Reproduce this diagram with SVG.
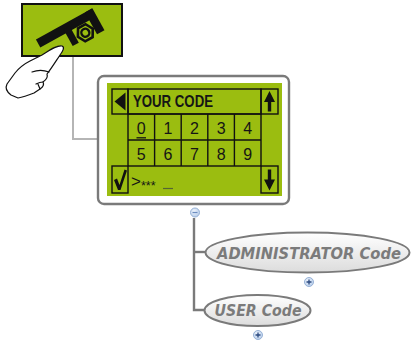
<svg xmlns="http://www.w3.org/2000/svg" width="411" height="344" viewBox="0 0 411 344">
  <defs>
    <linearGradient id="bubble" x1="0" y1="0" x2="0" y2="1">
      <stop offset="0" stop-color="#ffffff"/>
      <stop offset="1" stop-color="#dcdcdc"/>
    </linearGradient>
    <radialGradient id="knob" cx="0.4" cy="0.35" r="0.7">
      <stop offset="0" stop-color="#eef4fc"/>
      <stop offset="1" stop-color="#b4cbea"/>
    </radialGradient>
    <style>
      .lcd { fill: #9bbd10; }
      .grid { stroke: #111; stroke-width: 1.4; fill: none; }
      .ink { fill: #111; }
      .digit { font-family: "Liberation Sans", Arial, sans-serif; font-size: 16px; fill: #151515; text-anchor: middle; }
      .lcdtext { font-family: "Liberation Sans", Arial, sans-serif; fill: #151515; }
      .bubble { fill: url(#bubble); stroke: #7a7a7a; stroke-width: 2; }
      .label { font-family: "DejaVu Sans", Verdana, sans-serif; font-weight: bold; font-style: italic; fill: #7b7b7b; text-anchor: middle; }
      .knob { fill: url(#knob); stroke: #98b2d6; stroke-width: 1; }
      .link-light { stroke: #b5b5b5; stroke-width: 2; fill: none; }
      .link { stroke: #7a7a7a; stroke-width: 2.4; fill: none; }
    </style>
  </defs>

  <!-- connectors -->
  <g id="connectors">
    <polyline class="link-light" points="73,57 73,139 98,139"/>
    <polyline class="link" points="194,218 194,310 205,310"/>
    <line class="link" x1="194" y1="252" x2="206" y2="252"/>
  </g>

  <!-- keypad button with pressing hand -->
  <g id="key-button">
    <rect x="22" y="4" width="100" height="52" class="lcd" stroke="#111" stroke-width="2"/>
    <g transform="translate(39,43) rotate(-29)" class="ink">
      <rect x="-1" y="-4.5" width="64" height="9"/>
      <rect x="55" y="-4.5" width="8.5" height="25"/>
      <rect x="28" y="0" width="7" height="19"/>
      <polygon points="54,13.5 49.75,20.9 41.25,20.9 37,13.5 41.25,6.1 49.75,6.1" fill="#9bbd10" stroke="#111" stroke-width="2.6"/>
      <circle cx="45.5" cy="13.5" r="4" fill="#9bbd10" stroke="#111" stroke-width="2.4"/>
    </g>
    <g id="hand" fill="#fff" stroke="#111" stroke-width="1.2" stroke-linejoin="round" stroke-linecap="round">
      <path d="M62,46 C57,45 50,50 42,55 L30,61 C24,64 19,68 15,73 L7,84 C5,88 7,92 11,95 L18,98 C24,97 29,95 34,93 L40,89 C43,87 44,84 43,82 C46,80 48,77 47,74 C51,69 56,61 60,55 C63,51 65,47 62,46 Z"/>
      <path d="M49,72 C44,70 37,70 32,72" fill="none"/>
      <path d="M43,82 C40,82 38,83 36,84" fill="none"/>
      <path d="M40,89 C39,86 38,85 38,84" fill="none"/>
    </g>
  </g>

  <!-- code entry screen -->
  <g id="code-screen">
    <rect x="98" y="76" width="191" height="128" rx="6" fill="#fff" stroke="#7a7a7a" stroke-width="2.4"/>
    <rect x="107" y="83" width="175" height="113" class="lcd"/>
    <!-- frame boxes -->
    <rect x="112" y="89" width="16" height="25" class="grid"/>
    <rect x="128" y="89" width="133" height="25" class="grid"/>
    <rect x="261" y="89" width="17" height="25" class="grid"/>
    <rect x="128" y="114" width="133" height="52" class="grid"/>
    <line x1="128" y1="140" x2="261" y2="140" class="grid"/>
    <line x1="154.6" y1="114" x2="154.6" y2="166" class="grid"/>
    <line x1="181.2" y1="114" x2="181.2" y2="166" class="grid"/>
    <line x1="207.8" y1="114" x2="207.8" y2="166" class="grid"/>
    <line x1="234.4" y1="114" x2="234.4" y2="166" class="grid"/>
    <rect x="112" y="166" width="16" height="27" class="grid"/>
    <rect x="261" y="166" width="17" height="27" class="grid"/>
    <!-- arrow and check icons -->
    <polygon class="ink" points="114.5,101.5 125.5,92.5 125.5,110.5"/>
    <path class="ink" d="M269.5,91 L275,102 L271.2,102 L271.2,111.5 L267.8,111.5 L267.8,102 L264,102 Z"/>
    <path class="ink" d="M269.5,190.5 L275,179.5 L271.2,179.5 L271.2,169.5 L267.8,169.5 L267.8,179.5 L264,179.5 Z"/>
    <path class="ink" d="M114,180 L117,178.5 L119.5,185 L124.5,169.5 L127,170.5 L120.5,190 L118,190 Z"/>
    <!-- texts -->
    <text class="lcdtext" x="133" y="107" font-size="16.5" font-weight="bold" textLength="80" lengthAdjust="spacingAndGlyphs">YOUR CODE</text>
    <text class="digit" x="141.3" y="134">0</text>
    <line x1="136.5" y1="137.8" x2="146" y2="137.8" stroke="#151515" stroke-width="1.3"/>
    <text class="digit" x="167.9" y="134">1</text>
    <text class="digit" x="194.5" y="134">2</text>
    <text class="digit" x="221.1" y="134">3</text>
    <text class="digit" x="247.7" y="134">4</text>
    <text class="digit" x="141.3" y="159.5">5</text>
    <text class="digit" x="167.9" y="159.5">6</text>
    <text class="digit" x="194.5" y="159.5">7</text>
    <text class="digit" x="221.1" y="159.5">8</text>
    <text class="digit" x="247.7" y="159.5">9</text>
    <text class="lcdtext" x="131" y="187" font-size="17" font-weight="300">&gt;</text>
    <text class="lcdtext" x="141" y="190" font-size="12.5">***</text>
    <line x1="163" y1="188.5" x2="173" y2="188.5" stroke="#556633" stroke-width="1.2"/>
  </g>

  <g id="toggle-screen">
    <circle cx="195" cy="212.5" r="4.5" class="knob"/>
    <line x1="192.5" y1="212.5" x2="197.5" y2="212.5" stroke="#6d8dbf" stroke-width="1.2"/>
  </g>

  <!-- code types -->
  <g id="admin-code">
    <ellipse cx="307.5" cy="252.5" rx="102" ry="20" class="bubble"/>
    <text class="label" x="309" y="259" font-size="15" textLength="184" lengthAdjust="spacingAndGlyphs">ADMINISTRATOR Code</text>
    <circle cx="309" cy="282" r="4.5" class="knob"/>
    <path d="M306.5,282 H311.5 M309,279.5 V284.5" stroke="#2b4a80" stroke-width="1.3"/>
  </g>

  <g id="user-code">
    <ellipse cx="257.5" cy="310.5" rx="53" ry="15.5" class="bubble"/>
    <text class="label" x="258" y="316" font-size="15" textLength="87" lengthAdjust="spacingAndGlyphs">USER Code</text>
    <circle cx="258" cy="335" r="4.5" class="knob"/>
    <path d="M255.5,335 H260.5 M258,332.5 V337.5" stroke="#2b4a80" stroke-width="1.3"/>
  </g>
</svg>
